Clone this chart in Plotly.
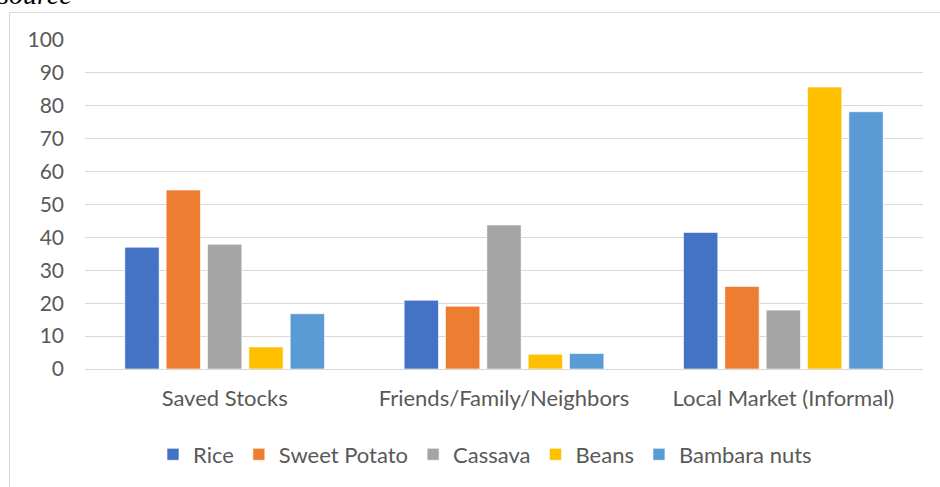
import plotly.graph_objects as go

categories = ["Saved Stocks", "Friends/Family/Neighbors", "Local Market (Informal)"]
series_names = ["Rice", "Sweet Potato", "Cassava", "Beans", "Bambara nuts"]
rice = [37.0, 20.9, 41.5]
sweet_potato = [54.4, 19.1, 25.1]
cassava = [37.9, 43.8, 17.9]
beans = [6.7, 4.5, 85.7]
bambara_nuts = [16.8, 4.7, 78.2]
series_values = [rice, sweet_potato, cassava, beans, bambara_nuts]
colors = ["#4472C4", "#ED7D31", "#A5A5A5", "#FFC000", "#5B9BD5"]

W, H = 940, 487
L, R, T, B = 85, 17, 40, 118
pw, ph = W - L - R, H - T - B

def px_x(p):
    return (p - L) / pw

def px_y(p):
    return (H - B - p) / ph

FONT = "Lato"
TXT = "#595959"

fig = go.Figure()
for name, vals, c in zip(series_names, series_values, colors):
    fig.add_trace(go.Bar(x=categories, y=vals, name=name,
                         marker=dict(color=c, line=dict(color="rgba(255,255,255,0.6)", width=1))))

fig.update_layout(
    width=W, height=H,
    margin=dict(l=L, r=R, t=T, b=B),
    paper_bgcolor="white", plot_bgcolor="white",
    barmode="group", bargap=0.26, bargroupgap=0.17,
    font=dict(family=FONT, size=22, color=TXT),
    showlegend=True,
    legend=dict(orientation="h", x=px_x(485), xanchor="center",
                y=px_y(454.5), yanchor="middle",
                font=dict(family=FONT, size=22, color=TXT),
                itemclick=False, traceorder="normal"),
    xaxis=dict(showgrid=False, showline=False, ticks="",
               tickfont=dict(family=FONT, size=22, color=TXT),
               ticklabelstandoff=14),
    yaxis=dict(range=[0, 100], dtick=10, showgrid=True, gridcolor="#D9D9D9",
               gridwidth=1, zeroline=True, zerolinecolor="#D9D9D9", zerolinewidth=1,
               showline=False, ticks="",
               tickfont=dict(family=FONT, size=21, color=TXT),
               ticklabelstandoff=20),
    shapes=[dict(type="rect", xref="paper", yref="paper",
                 x0=px_x(9.5), x1=px_x(960), y0=px_y(520), y1=px_y(12.5),
                 line=dict(color="#D9D9D9", width=1), fillcolor="rgba(0,0,0,0)",
                 layer="below")],
    annotations=[dict(text="<i>source</i>", xref="paper", yref="paper",
                      x=px_x(-4), xanchor="left", y=px_y(12), yanchor="bottom",
                      showarrow=False,
                      font=dict(family="Liberation Serif", size=28, color="black"))],
)

fig.write_html("out.html")
